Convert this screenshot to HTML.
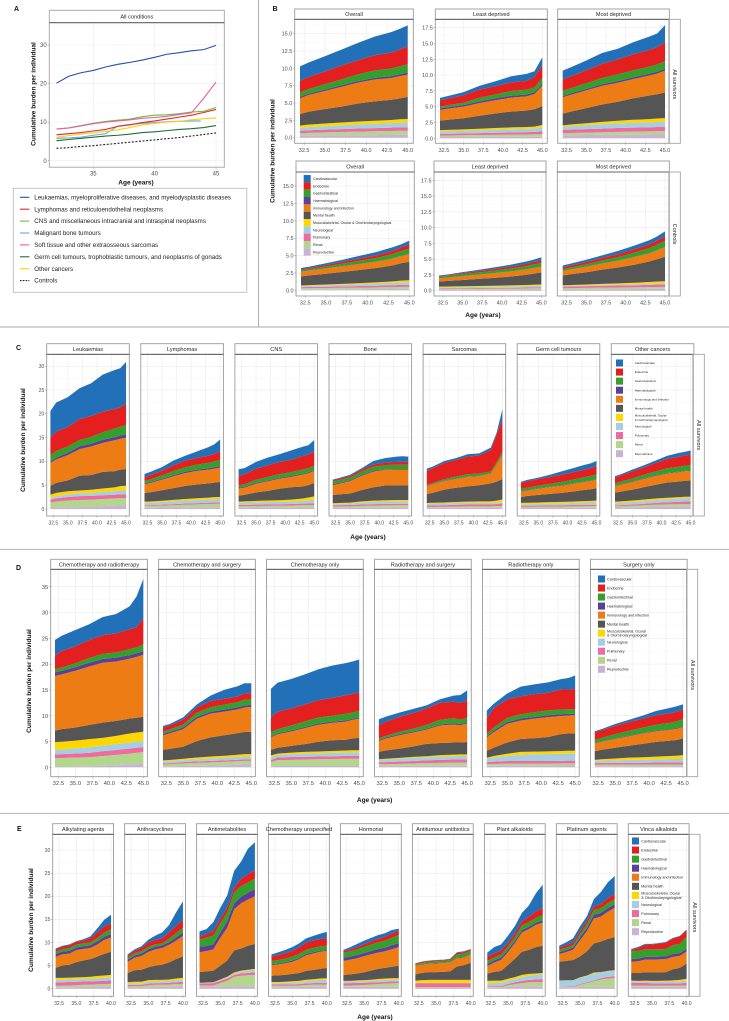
<!DOCTYPE html>
<html lang="en">
<head>
<meta charset="utf-8">
<title>Cumulative burden per individual</title>
<style>
html,body{margin:0;padding:0;background:#fff;width:729px;height:1021px;overflow:hidden}
svg{display:block;font-family:"Liberation Sans",Arial,sans-serif}
</style>
</head>
<body>
<svg id="figure" width="729" height="1021" viewBox="0 0 729 1021" xmlns="http://www.w3.org/2000/svg"></svg>
<script>
/* ---------- shared categories ---------- */
const layerNames = ["Reproductive","Renal","Pulmonary","Neurological","Musculoskeletal, Ocular & Otorhinolaryngological","Mental health","Immunology and infection","Haematological","Gastrointestinal","Endocrine","Cardiovascular"];
const layerColors = ["#cab2d6","#b2d78c","#ef6a9f","#a6cee3","#ffd700","#555555","#ee7c14","#5d3f97","#33a02c","#e31f1f","#2271b8"];
const agesLong = [32,33,35,37,39,41,43,44,45];
const agesShort = [32,33,34,35,36,37,38,39,40];
const xTicksLong = [32.5,35,37.5,40,42.5,45];
const xTicksShort = [32.5,35,37.5,40];
const xTickLabelsLong = ["32.5","35.0","37.5","40.0","42.5","45.0"];
const xTickLabelsShort = ["32.5","35.0","37.5","40.0"];
const yTicksB1 = [0,2.5,5,7.5,10,12.5,15];
const yTickLabelsB1 = ["0.0","2.5","5.0","7.5","10.0","12.5","15.0"];
const yTicksB2 = [0,2.5,5,7.5,10,12.5,15,17.5];
const yTickLabelsB2 = ["0.0","2.5","5.0","7.5","10.0","12.5","15.0","17.5"];
const yTicksC = [0,5,10,15,20,25,30];
const yTickLabelsC = ["0","5","10","15","20","25","30"];
const yTicksD = [0,5,10,15,20,25,30,35];
const yTickLabelsD = ["0","5","10","15","20","25","30","35"];

/* ---------- panel A: line series ---------- */
const lineAges = [32,33,34,35,36,37,38,39,40,41,42,43,44,45];
const boneAges = [32,33,34,35,36,37,38,39,40,41,42,43,43.75];
const leukaemiaLine = [20.1,21.9,22.8,23.4,24.3,25,25.5,26.1,26.8,27.6,28,28.5,28.8,29.9];
const lymphomaLine = [6.7,7,7.3,7.7,8.1,8.9,9.3,9.9,10.3,10.8,11.3,11.8,12.5,13.3];
const cnsLine = [8.2,8.5,9.1,9.7,10.2,10.5,10.8,11.4,11.8,11.9,12.2,12.6,12.8,13.8];
const boneLine = [5.8,5.9,6.1,6.6,7,9,9.4,9.7,9.9,10.1,10.2,10.3,10.3];
const softTissueLine = [8.2,8.5,9,9.6,10,10.3,10.6,11,11.2,11.5,12,12.4,16.2,20.4];
const germCellLine = [5.2,5.5,5.8,6.1,6.4,6.6,6.9,7.3,7.5,7.8,8.1,8.3,8.6,9.1];
const otherCancerLine = [6.1,6.5,6.9,7.2,7.6,8,8.6,9.3,9.7,10,10.2,10.6,10.9,11.1];
const controlsLine = [3.2,3.4,3.7,3.9,4.2,4.5,4.8,5.1,5.4,5.7,6,6.4,6.8,7.2];
const lineLabels = ["Leukaemias, myeloproliferative diseases, and myelodysplastic diseases","Lymphomas and reticuloendothelial neoplasms","CNS and miscellaneous intracranial and intraspinal neoplasms","Malignant bone tumours","Soft tissue and other extraosseous sarcomas","Germ cell tumours, trophoblastic tumours, and neoplasms of gonads","Other cancers","Controls"];
const aXTicks = [35,40,45];
const aYTicks = [0,10,20,30];

/* ---------- stacked panels: rows = layers bottom to top, columns = ages ---------- */
const bOverallAll = [
[.35,.35,.36,.37,.38,.38,.39,.4,.4],[.3,.35,.4,.45,.5,.55,.58,.6,.6],[.35,.38,.4,.42,.44,.45,.48,.5,.5],[.4,.45,.5,.55,.6,.62,.65,.68,.7],[.35,.36,.38,.4,.42,.44,.46,.48,.5],[1.65,1.85,2.1,2.3,2.6,2.8,2.9,3,3.2],[2.3,2.4,2.6,2.85,3,3.15,3.15,3.2,3.2],[.2,.2,.22,.22,.24,.25,.27,.28,.3],[.6,.65,.75,.85,.95,1.05,1.1,1.15,1.2],[1.7,1.75,1.85,2,2.05,2.2,2.3,2.4,2.6],[2.1,2.1,2.2,2.3,2.5,2.7,2.95,3,3]];
const bLeastAll = [
[.2,.2,.2,.22,.23,.24,.25,.25,.25],[.25,.25,.28,.3,.32,.35,.36,.38,.4],[.25,.26,.28,.3,.32,.34,.36,.38,.45],[.4,.4,.42,.44,.48,.5,.52,.54,.65],[.2,.22,.24,.26,.28,.3,.3,.3,.35],[1.5,1.6,1.75,2.05,2.3,2.5,2.6,2.75,3],[1.7,1.75,1.85,2,2.1,2.2,2.25,2.4,3.2],[.25,.25,.25,.28,.3,.3,.3,.3,.3],[.25,.3,.35,.55,.6,.75,.75,.75,.95],[1,1.05,1.2,1.3,1.3,1.35,1.4,1.65,2.05],[.4,.42,.48,.6,.77,.97,1.11,.9,1.2]];
const bMostAll = [
[.5,.5,.52,.54,.56,.57,.58,.6,.6],[.3,.33,.38,.42,.46,.5,.52,.54,.55],[.55,.55,.56,.58,.6,.62,.63,.64,.65],[.5,.55,.62,.7,.74,.76,.78,.8,.8],[.2,.25,.3,.35,.42,.48,.52,.55,.6],[1.85,2.05,2.4,2.75,3,3.4,3.75,3.85,4.05],[2.6,2.65,2.8,2.95,3,3.05,3.15,3.25,3.45],[.2,.22,.24,.26,.28,.28,.3,.3,.3],[.8,.82,.9,1,1.05,1.1,1.1,1.15,1.2],[1.8,1.85,2.05,2.25,2.35,2.55,2.65,2.75,3],[1.4,1.45,1.55,1.7,1.7,1.9,2.1,2.15,2.7]];
const bOverallControls = [
[.15,.15,.16,.16,.17,.18,.19,.2,.2],[.15,.16,.18,.2,.22,.24,.27,.29,.3],[.15,.16,.18,.2,.22,.24,.27,.29,.3],[.15,.17,.2,.23,.26,.3,.35,.38,.4],[.1,.11,.12,.14,.16,.18,.2,.23,.25],[1.3,1.4,1.55,1.72,1.9,2.06,2.3,2.5,2.65],[.65,.68,.74,.8,.84,.9,.98,1.03,1.1],[.03,.03,.03,.04,.04,.04,.05,.05,.05],[.17,.2,.28,.34,.42,.5,.6,.67,.75],[.15,.17,.22,.27,.32,.38,.46,.52,.6],[.2,.17,.24,.3,.4,.48,.53,.44,.55]];
const bLeastControls = [
[.12,.12,.13,.14,.15,.16,.18,.19,.2],[.13,.13,.14,.15,.16,.17,.18,.19,.2],[.12,.12,.12,.13,.13,.14,.14,.15,.15],[.15,.16,.17,.18,.19,.2,.22,.23,.25],[.13,.13,.14,.15,.16,.17,.18,.19,.2],[.8,.87,1,1.12,1.25,1.4,1.6,1.75,1.9],[.5,.53,.6,.65,.72,.78,.85,.87,.9],[.02,.02,.02,.02,.03,.03,.03,.03,.03],[.23,.24,.3,.35,.4,.45,.5,.55,.57],[.1,.12,.17,.21,.26,.3,.35,.38,.4],[.1,.11,.16,.2,.25,.3,.37,.37,.5]];
const bMostControls = [
[.2,.2,.22,.24,.25,.26,.28,.3,.3],[.2,.21,.22,.24,.25,.26,.28,.29,.3],[.25,.26,.28,.3,.32,.34,.37,.39,.4],[.1,.11,.12,.14,.15,.16,.18,.19,.2],[.1,.12,.14,.17,.2,.23,.26,.28,.3],[1.55,1.7,1.95,2.25,2.5,2.85,3.25,3.55,3.9],[.7,.75,.85,.95,1.05,1.2,1.3,1.4,1.5],[.03,.03,.03,.04,.04,.04,.05,.05,.05],[.27,.3,.37,.46,.55,.66,.78,.85,.95],[.3,.32,.35,.41,.47,.53,.6,.65,.7],[.3,.3,.37,.4,.52,.57,.65,.65,.8]];

const cLeukaemias = [
[.3,.35,.38,.4,.45,.6,.7,.75,.75],[1.1,1.2,1.4,1.5,1.5,1.5,1.5,1.55,1.55],[.55,.7,.75,.8,.8,.8,.8,.8,.8],[.35,.45,.55,.6,.6,.7,.75,.8,.8],[.7,.7,.65,.6,.7,.7,.8,.9,1],[1.9,2.1,2.3,3.1,3.1,3.5,3.4,3.45,3.5],[4.8,4.9,5.3,5.6,6,6.1,6.5,6.5,6.6],[.3,.4,.5,.6,.6,.65,.65,.7,.7],[1.3,1.4,1.3,1.3,1.4,1.6,1.8,1.85,1.9],[3.7,4.1,4.1,4.4,4.4,4.3,4.1,4.1,4.5],[5.6,6.1,6.3,6.5,6.9,7.8,8.2,8.2,8.8]];
const cLymphomas = [
[.3,.3,.32,.33,.35,.37,.38,.4,.4],[.3,.32,.38,.45,.55,.6,.65,.68,.7],[.2,.2,.22,.25,.25,.26,.28,.3,.3],[.5,.5,.55,.6,.62,.65,.68,.7,.7],[.25,.25,.27,.3,.33,.38,.4,.42,.45],[1.85,1.95,2.2,2.45,2.75,2.9,3,3.05,3.15],[1.8,1.95,2.2,2.5,2.7,2.85,2.9,2.95,3],[.2,.2,.22,.25,.27,.28,.3,.3,.3],[.5,.55,.7,.85,.95,1.05,1.1,1.2,1.3],[.8,.88,1,1.2,1.4,1.4,1.5,1.6,1.8],[.65,.7,.74,1.02,1.03,1.36,1.81,2,2.5]];
const cCns = [
[.3,.3,.32,.33,.34,.34,.35,.35,.35],[.25,.27,.3,.32,.36,.4,.45,.48,.5],[.3,.3,.3,.3,.3,.3,.32,.33,.35],[.45,.46,.48,.5,.5,.52,.6,.65,.75],[.25,.27,.3,.35,.35,.4,.5,.6,.7],[1.25,1.4,1.8,2,2.4,2.6,2.5,2.6,2.85],[1.5,1.5,1.8,2,2.1,2.2,2.5,2.5,2.5],[.2,.2,.2,.2,.22,.2,.2,.2,.2],[.5,.5,.65,.75,.75,.8,.85,.85,.9],[2,2.1,2.35,2.4,2.55,2.6,2.85,2.9,3],[1.35,1.3,1.4,1.65,1.63,1.94,1.98,1.94,2.4]];
const cBone = [
[.3,.3,.3,.3,.3,.3,.3,.3,.3],[.2,.22,.25,.35,.42,.47,.5,.5,.5],[.3,.3,.3,.3,.3,.3,.3,.3,.3],[.2,.25,.3,.4,.5,.5,.5,.5,.5],[.2,.2,.2,.25,.25,.27,.3,.3,.3],[1.75,1.8,1.9,2.4,2.8,3.1,3.1,3.1,3.1],[2.05,2.2,2.6,3,3.3,3.3,3.3,3.3,3.3],[.2,.2,.2,.2,.2,.15,.1,.1,.1],[.6,.6,.6,.7,.8,.85,.9,.9,.9],[.25,.28,.35,.4,.5,.55,.6,.6,.6],[.15,.15,.2,.3,.73,.91,1.1,1.2,1.1]];
const cSarcomas = [
[.25,.25,.25,.27,.3,.3,.3,.3,.3],[.15,.17,.2,.22,.25,.25,.25,.3,.35],[.3,.32,.35,.4,.4,.4,.4,.45,.55],[.4,.4,.38,.36,.35,.35,.35,.3,.25],[.15,.17,.2,.22,.25,.3,.3,.4,.55],[1.9,2.1,2.7,3,3.2,3.4,3.8,4,4.3],[1.65,1.75,1.8,1.85,2,1.9,2,3.5,5],[.1,.1,.1,.1,.1,.1,.1,.1,.1],[.15,.2,.3,.4,.45,.5,.35,.45,.6],[2.95,3.1,3.4,3.5,3.7,3.75,4.55,5.8,6.9],[.5,.34,.42,.38,.5,.45,.5,.4,2.1]];
const cGermCell = [
[.2,.2,.2,.22,.22,.24,.24,.25,.25],[.25,.25,.27,.28,.3,.32,.34,.35,.35],[.25,.25,.25,.27,.27,.28,.3,.3,.3],[.3,.32,.35,.37,.4,.42,.45,.47,.5],[.3,.3,.3,.3,.31,.32,.33,.34,.35],[1.2,1.4,1.6,1.75,1.9,2.1,2.35,2.45,2.65],[1.1,1.15,1.3,1.4,1.5,1.6,1.7,1.75,1.8],[.1,.1,.1,.1,.1,.1,.1,.1,.1],[.5,.5,.55,.6,.7,.8,.9,.95,1],[1.3,1.33,1.4,1.45,1.5,1.55,1.6,1.65,1.7],[.2,.3,.28,.46,.7,.87,.99,.99,1.1]];
const cOther = [
[.3,.32,.36,.4,.43,.46,.48,.5,.5],[.25,.27,.32,.38,.45,.5,.53,.55,.55],[.2,.22,.27,.33,.4,.45,.5,.53,.55],[.45,.47,.5,.55,.6,.65,.68,.7,.7],[.35,.33,.33,.33,.32,.3,.3,.3,.3],[1.9,2.05,2.3,2.6,2.9,3.2,3.3,3.35,3.4],[1.35,1.45,1.6,1.75,1.85,1.9,1.95,2,2],[.1,.1,.12,.12,.12,.12,.1,.1,.1],[.5,.55,.65,.75,.85,1,1.05,1.1,1.1],[1.2,1.3,1.45,1.55,1.75,1.95,2.1,2.15,2.2],[.3,.24,.4,.44,.53,.67,.81,.72,.9]];

const dChemoRadio = [
[.15,.15,.17,.2,.3,.4,.6,.62,.65],[1.65,1.65,1.7,1.75,1.9,2,2.05,2.2,2.3],[.7,.75,.8,.85,.9,.95,1,.98,.95],[.9,.9,1,1.05,1.1,1.15,1.15,1.2,1.2],[1.5,1.5,1.5,1.6,1.5,1.6,1.75,1.75,1.8],[2.2,2.45,2.55,2.75,2.95,2.9,2.9,2.85,2.9],[10.6,10.6,11,11.3,11.6,11.5,11.6,11.8,12],[.7,.7,.7,.75,.75,.75,.7,.7,.7],[.6,.65,.75,.9,1,1,1.15,1.15,1.3],[2.7,3.2,3.3,3.5,3.6,3.7,3.85,3.9,5.1],[3,2.95,3.13,3.05,3.5,3.75,4.45,5.95,7.6]];
const dChemoSurgery = [
[.2,.2,.25,.3,.35,.4,.5,.55,.55],[.35,.4,.5,.55,.6,.65,.68,.7,.7],[.2,.2,.25,.3,.3,.3,.28,.25,.25],[.4,.4,.4,.4,.45,.5,.55,.6,.6],[.2,.22,.25,.35,.4,.4,.42,.45,.45],[2.05,2.15,2.35,3.2,3.7,3.95,4.2,4.3,4.35],[2.8,3,3.4,4.3,4.6,4.6,4.6,4.75,4.8],[.3,.3,.35,.4,.4,.4,.4,.4,.4],[.4,.45,.55,.8,.85,.95,1,1.1,1.1],[.8,.8,.95,1,1.2,1.1,1.1,1.2,1.2],[.3,.28,.45,.6,1.05,1.75,1.97,2,1.9]];
const dChemoOnly = [
[.2,.25,.25,.25,.25,.25,.25,.25,.25],[.8,1.15,1.2,1.25,1.3,1.35,1.4,1.4,1.4],[.4,.5,.55,.55,.55,.55,.55,.55,.55],[.6,.5,.55,.6,.6,.65,.65,.7,.7],[.3,.25,.3,.35,.35,.35,.4,.4,.4],[1.1,1.15,1.3,1.5,1.9,2.1,2.1,2.3,2.4],[2.4,2.6,2.8,3.1,3.3,3.35,3.5,3.6,3.7],[.2,.2,.2,.2,.25,.25,.25,.2,.2],[.8,.8,.95,1.1,1.15,1.15,1.25,1.25,1.3],[2.9,3.4,3.3,3.3,3.35,3.45,3.6,3.55,3.6],[5.5,5.6,5.7,5.8,6,6.25,6.25,6.3,6.4]];
const dRadioSurgery = [
[.25,.25,.27,.28,.3,.3,.3,.3,.3],[.35,.35,.4,.45,.5,.55,.6,.6,.6],[.4,.4,.45,.5,.55,.6,.6,.65,.65],[.45,.5,.55,.6,.6,.65,.65,.65,.65],[.1,.15,.15,.2,.2,.25,.3,.3,.3],[1.45,1.6,1.8,2,2.4,2.35,2.35,2.3,2.4],[2.1,2.3,2.6,2.7,2.75,3.4,3.5,3.35,3.6],[.2,.2,.2,.2,.2,.2,.25,.25,.2],[.3,.35,.45,.55,.7,.9,.95,.85,.9],[2.6,2.7,2.9,3,3.2,3.3,3.2,3.2,3.4],[1.1,1,.83,.82,.6,.7,1.2,1.55,1.9]];
const dRadioOnly = [
[.3,.3,.32,.33,.33,.33,.35,.35,.35],[.3,.35,.4,.4,.4,.4,.4,.4,.4],[.4,.45,.5,.5,.5,.5,.5,.55,.55],[.65,.8,1,1.2,1.3,1.35,1.35,1.35,1.35],[.2,.3,.4,.55,.5,.5,.55,.55,.55],[1.35,1.6,2.2,2.5,2.6,2.8,3.3,3.35,3.4],[2.6,3,3.6,3.6,3.8,3.85,3.5,3.5,3.5],[.2,.3,.35,.4,.35,.35,.35,.3,.3],[.5,.6,.8,.8,.9,.95,.9,.9,.9],[3,3.7,3.6,3.5,3.5,3.4,3.9,3.8,3.9],[1.5,.9,1.13,1.85,1.9,2.02,2,2.25,2.6]];
const dSurgeryOnly = [
[.2,.2,.2,.22,.22,.22,.22,.22,.22],[.3,.3,.3,.3,.3,.32,.33,.33,.33],[.35,.35,.35,.36,.37,.38,.4,.4,.4],[.4,.45,.5,.55,.55,.6,.65,.65,.65],[.2,.25,.35,.45,.5,.55,.6,.65,.75],[1.65,1.85,2.1,2.3,2.6,2.85,2.95,3.05,3.25],[1.5,1.55,1.7,1.85,2,2.05,2.1,2.15,2.2],[.1,.1,.12,.12,.12,.12,.12,.15,.15],[.6,.65,.8,.9,1,1.15,1.25,1.3,1.35],[1.5,1.5,1.6,1.7,1.75,1.85,1.85,1.85,1.9],[.2,.2,.38,.45,.59,.81,1.03,1.05,1]];

const eAlkylating = [
[.2,.3,.3,.35,.4,.4,.45,.45,.5],[.4,.35,.4,.4,.45,.45,.5,.55,.55],[.75,.75,.75,.75,.7,.7,.7,.7,.75],[.6,.55,.55,.55,.55,.55,.6,.65,.7],[.4,.4,.4,.4,.4,.5,.5,.5,.5],[2.15,2.7,2.8,3.3,3.6,3.8,4.2,4.7,5],[2.4,2.4,2.4,2.6,2.5,2.4,2.6,3,3.1],[.6,.6,.6,.6,.6,.6,.7,.7,.7],[.5,.55,.6,.6,.6,.6,.7,.9,1],[.5,.55,.6,.6,.65,.9,1.2,1.3,1.3],[.2,.15,.2,.15,.25,.4,.85,1.45,1.9]];
const eAnthracyclines = [
[.25,.25,.25,.35,.4,.4,.4,.45,.45],[.25,.3,.3,.4,.45,.45,.5,.55,.6],[.3,.3,.3,.35,.35,.35,.4,.4,.45],[.3,.3,.3,.4,.4,.4,.4,.45,.45],[.3,.35,.35,.35,.3,.3,.3,.35,.4],[2,2.5,2.6,2.8,3.1,3.3,3.7,4.2,4.65],[2.4,2.7,3,3.3,3.5,3.6,3.8,4,4.4],[.5,.5,.5,.6,.6,.6,.6,.7,.8],[.4,.5,.5,.5,.5,.4,.7,.9,1],[.4,.6,.7,1,1,1.1,1.4,1.6,1.7],[.3,.2,.4,.55,.9,1.3,1.6,2.9,4]];
const eAntimetabolites = [
[.5,.5,.5,.5,.5,.5,.5,.5,.5],[.2,.2,.2,.7,1.2,2.1,2.3,2.4,2.5],[.4,.45,.5,.5,.5,.4,.5,.5,.6],[.1,.12,.12,.2,.25,.3,.4,.5,.5],[.05,.08,.08,.1,.15,.2,.2,.2,.2],[2.35,2.4,2.5,3,3.5,4.8,4.8,5.2,5.4],[4.3,4.4,4.6,6,7.1,8.9,9.8,10,10.3],[1.2,1.1,1.1,1.2,1.4,1.3,1.4,1.5,1.6],[1.5,1.8,1.9,1.9,1.9,2.3,2.3,2.2,2.2],[.7,.8,1,1,1.1,1,1.6,1.8,1.8],[1.1,1.05,1.9,2.4,2.6,3.7,3.7,5.5,6.1]];
const eUnspecified = [
[.35,.35,.35,.35,.35,.4,.4,.45,.45],[.3,.3,.3,.3,.35,.4,.45,.45,.45],[.25,.25,.25,.3,.3,.35,.35,.4,.4],[.3,.3,.35,.4,.4,.5,.55,.6,.65],[.25,.25,.25,.25,.3,.3,.3,.3,.3],[1.35,1.45,1.5,1.6,1.7,1.9,2,2.1,2.25],[2.3,2.35,2.5,2.6,3,3.4,3.55,3.7,3.7],[.2,.2,.25,.3,.3,.3,.3,.25,.2],[.7,.75,.75,.85,.85,.85,.9,.9,.9],[1,1.1,1.2,1.25,1.4,1.6,1.6,1.6,1.6],[.4,.6,.7,.8,.85,.9,1,1.15,1.4]];
const eHormonal = [
[.4,.4,.4,.4,.4,.4,.4,.4,.4],[.3,.3,.35,.4,.5,.6,.7,.75,.8],[.5,.5,.5,.5,.45,.4,.4,.4,.4],[.35,.35,.35,.35,.35,.4,.4,.4,.4],[.15,.15,.2,.2,.25,.3,.3,.3,.3],[1.3,1.4,1.5,1.7,2,2.2,2.3,2.5,2.7],[3,3.2,3.3,3.5,3.5,3.5,3.6,3.8,4],[.7,.7,.7,.7,.7,.8,.8,.85,.9],[1.1,1.1,1.2,1.3,1.4,1.4,1.5,1.6,1.7],[.4,.4,.5,.6,.7,.8,.85,.95,1],[.2,.5,.7,.75,.75,.8,.75,.75,.4]];
const eAntitumour = [
[.15,.15,.15,.15,.15,.15,.15,.15,.15],[.2,.2,.2,.2,.2,.2,.2,.2,.2],[.85,.85,.85,.85,.85,.85,.85,.85,.85],[.05,.05,.05,.05,.05,.05,.05,.05,.05],[.5,.6,.65,.65,.65,.65,.65,.65,.65],[1.35,1.6,1.7,1.7,1.75,1.85,2.9,3.2,3.7],[1.8,1.8,1.8,1.85,1.9,1.9,1.8,1.6,1.8],[.1,.1,.1,.1,.1,.1,.1,.1,.1],[.3,.3,.35,.4,.4,.4,.7,.8,.7],[.15,.2,.2,.2,.2,.25,.35,.35,.3],[.05,.05,.05,.05,.05,.05,.15,.15,.1]];
const ePlant = [
[.2,.2,.2,.4,.5,.5,.5,.5,.5],[.15,.15,.15,.35,.5,.7,.9,.9,.9],[.15,.2,.2,.3,.4,.5,.5,.6,.7],[.6,.7,.75,.7,.7,.8,.9,1,1],[.6,.5,.45,.4,.4,.5,.4,.3,.3],[1.6,1.9,2.1,3,4,5,5.2,5.7,5.9],[1.6,2,2.4,2.8,3.4,4.2,4.5,4.8,5],[.5,.5,.5,.5,.5,.5,.5,.5,.5],[.6,.6,.65,.7,.8,1,1,1,1.1],[1,.9,.9,.8,.9,.9,1.2,1.4,1.6],[.8,1.35,1.3,1.55,1.5,1.8,2.4,3.9,5]];
const ePlatinum = [
[.2,.2,.2,.35,.4,.4,.4,.4,.4],[.1,.1,.15,.5,.8,1.2,1.6,1.8,1.9],[.1,.15,.15,.2,.2,.2,.3,.35,.4],[1.35,1.35,1.3,1.3,1.35,1.5,1.2,1.2,1.2],[.02,.02,.02,.1,.1,.2,.1,.1,.1],[4.05,4.2,4.4,4.55,5.25,6.3,6.6,6.9,7.2],[1.7,1.9,2.2,3.5,4.4,5.4,5.4,5.9,6.3],[.4,.45,.5,.6,.7,.8,.8,.8,.8],[.5,.5,.5,.7,.8,1,1,1.05,1.1],[.5,.55,.6,.7,.8,.8,.9,1.05,1.1],[.4,.6,.9,1,.9,1.6,2.6,3.45,3.9]];
const eVinca = [
[.4,.4,.4,.4,.4,.4,.4,.4,.4],[.3,.3,.3,.3,.3,.3,.3,.3,.3],[.6,.55,.55,.45,.45,.45,.45,.45,.6],[.3,.3,.3,.35,.35,.4,.4,.45,.45],[.15,.15,.2,.2,.2,.2,.25,.3,.4],[1.65,1.7,1.8,1.85,1.85,1.85,2.4,2.6,3.3],[2.4,2.55,2.75,2.75,2.8,2.8,2.7,2.6,2.6],[.6,.6,.6,.6,.6,.6,.6,.6,.6],[1.65,1.65,1.6,1.6,1.6,1.6,1.9,2,2.6],[.35,.6,1,1.1,1.2,1.4,1.5,1.6,1.4],[.2,.25,.2,.1,.15,.1,.1,.1,.15]];

/* ---------- drawing helpers ---------- */
const svg = document.getElementById('figure');
const NS = 'http://www.w3.org/2000/svg';
function add(parent, tag, attrs, name, text, interactable) {
  const el = document.createElementNS(NS, tag);
  for (const k in attrs) el.setAttribute(k, attrs[k]);
  
  
  if (text !== undefined) el.textContent = text;
  parent.appendChild(el);
  return el;
}
function linearScale(d0, d1, r0, r1) { return function (v) { return r0 + (v - d0) / (d1 - d0) * (r1 - r0); }; }
function slug(s) { return s.toLowerCase().replace(/[^a-z0-9]+/g, '-').replace(/^-|-$/g, ''); }

function stackPanel(o) {
  const g = add(svg, 'g', {}, 'panel-' + slug(o.id));
  const ages = o.ages;
  const ageMax = ages[ages.length - 1];
  const x = linearScale(32, ageMax, o.areaL, o.areaR);
  const y = function (v) { return o.zeroY - v * o.unit; };
  add(g, 'rect', {x:o.left, y:o.stripB, width:o.right - o.left, height:o.bottom - o.stripB, fill:'#fff'}, 'plot-background');
  const step = o.yTicks[1] - o.yTicks[0];
  o.yTicks.forEach(function (t) {
    add(g, 'line', {x1:o.left, x2:o.right, y1:y(t), y2:y(t), stroke:'#ebebeb', 'stroke-width':.6}, 'y-gridline');
    const m = y(t + step / 2);
    if (m > o.stripB) add(g, 'line', {x1:o.left, x2:o.right, y1:m, y2:m, stroke:'#f4f4f4', 'stroke-width':.4}, 'y-minor-gridline');
  });
  o.xTicks.forEach(function (t) {
    add(g, 'line', {x1:x(t), x2:x(t), y1:o.stripB, y2:o.bottom, stroke:'#ebebeb', 'stroke-width':.6}, 'x-gridline');
  });
  /* stacked layers */
  const base = ages.map(function () { return 0; });
  o.values.forEach(function (row, li) {
    const upper = row.map(function (v, i) { return base[i] + v; });
    const pts = [];
    upper.forEach(function (v, i) { pts.push(x(ages[i]).toFixed(2) + ',' + y(v).toFixed(2)); });
    for (let i = ages.length - 1; i >= 0; i--) pts.push(x(ages[i]).toFixed(2) + ',' + y(base[i]).toFixed(2));
    add(g, 'polygon', {points:pts.join(' '), fill:layerColors[li]}, 'area-' + slug(layerNames[li]));
    upper.forEach(function (v, i) { base[i] = v; });
  });
  /* frame + strip */
  add(g, 'rect', {x:o.left, y:o.stripB, width:o.right - o.left, height:o.bottom - o.stripB, fill:'none', stroke:'#9a9a9a', 'stroke-width':.9}, 'plot-border');
  add(g, 'rect', {x:o.left, y:o.stripT, width:o.right - o.left, height:o.stripB - o.stripT, fill:'#fff', stroke:'#9a9a9a', 'stroke-width':.9}, 'facet-strip');
  add(g, 'line', {x1:o.left, x2:o.right, y1:o.stripB, y2:o.stripB, stroke:'#555', 'stroke-width':.8}, 'facet-strip-rule');
  add(g, 'text', {x:(o.left + o.right) / 2, y:(o.stripT + o.stripB) / 2 + 2, 'font-size':o.stripFont || 5.6, 'text-anchor':'middle', fill:'#262626'}, 'facet-title', o.title);
  /* x axis */
  o.xTicks.forEach(function (t, i) {
    add(g, 'line', {x1:x(t), x2:x(t), y1:o.bottom, y2:o.bottom + 1.5, stroke:'#888', 'stroke-width':.5}, 'x-tick');
    add(g, 'text', {x:x(t), y:o.bottom + 8.5, 'font-size':o.tickFont, 'text-anchor':'middle', fill:'#4d4d4d'}, 'x-tick-label', o.xLabels[i]);
  });
  /* y axis */
  if (o.yLabels) {
    o.yTicks.forEach(function (t, i) {
      add(g, 'line', {x1:o.left - 1.5, x2:o.left, y1:y(t), y2:y(t), stroke:'#888', 'stroke-width':.5}, 'y-tick');
      add(g, 'text', {x:o.left - 2.4, y:y(t) + o.tickFont * .36, 'font-size':o.tickFont, 'text-anchor':'end', fill:'#4d4d4d'}, 'y-tick-label', o.yLabels[i]);
    });
  }
}
function rowStrip(x0, x1, top, bottom, label, name, shiftY) {
  const g = add(svg, 'g', {}, name);
  add(g, 'rect', {x:x0 - 1, y:top, width:2.2, height:bottom - top, fill:'#b4b4b4'}, 'strip-edge');
  add(g, 'rect', {x:x0, y:top, width:x1 - x0, height:bottom - top, fill:'#fff', stroke:'#9a9a9a', 'stroke-width':.8}, 'row-strip');
  const cx = (x0 + x1) / 2 - 1.6, cy = (top + bottom) / 2 + shiftY;
  add(g, 'text', {x:cx, y:cy, transform:'rotate(90 ' + cx + ' ' + cy + ')', 'font-size':5.6, 'text-anchor':'middle', fill:'#262626'}, 'row-strip-label', label);
}
function burdenLegend(sx, firstY, gap, textX, font, swatch, splitLong) {
  const g = add(svg, 'g', {}, 'condition-legend');
  const h = gap >= 8 ? Math.min(swatch, gap) : gap;
  for (let i = layerNames.length - 1; i >= 0; i--) {
    const cy = firstY + (layerNames.length - 1 - i) * gap;
    add(g, 'rect', {x:sx, y:cy - h / 2, width:swatch, height:h, fill:layerColors[i]}, 'legend-swatch');
    if (i === 4 && splitLong) {
      add(g, 'text', {x:textX, y:cy - .9, 'font-size':font, fill:'#262626'}, 'legend-label', 'Musculoskeletal, Ocular');
      add(g, 'text', {x:textX, y:cy + 3.4, 'font-size':font, fill:'#262626'}, 'legend-label', '& Otorhinolaryngological');
    } else {
      add(g, 'text', {x:textX, y:cy + font * .36, 'font-size':font, fill:'#262626'}, 'legend-label', layerNames[i]);
    }
  }
}
function panelLetter(x, y, s) { add(svg, 'text', {x:x, y:y, 'font-size':7, 'font-weight':'bold', fill:'#111'}, 'panel-label-' + s.toLowerCase(), s); }
function yTitle(x, cy) { add(svg, 'text', {x:x, y:cy, transform:'rotate(-90 ' + x + ' ' + cy + ')', 'font-size':6.55, 'font-weight':'bold', 'text-anchor':'middle', fill:'#111'}, 'y-axis-title', 'Cumulative burden per individual'); }
function xTitle(cx, y) { add(svg, 'text', {x:cx, y:y, 'font-size':6.5, 'font-weight':'bold', 'text-anchor':'middle', fill:'#111'}, 'x-axis-title', 'Age (years)'); }

/* ---------- separators ---------- */
add(svg, 'line', {x1:258.5, x2:258.5, y1:0, y2:327, stroke:'#a8a8a8', 'stroke-width':.9}, 'divider-vertical');
add(svg, 'line', {x1:0, x2:729, y1:327, y2:327, stroke:'#a8a8a8', 'stroke-width':.9}, 'divider-ab-c');
add(svg, 'line', {x1:0, x2:729, y1:549.3, y2:549.3, stroke:'#a8a8a8', 'stroke-width':.9}, 'divider-c-d');
add(svg, 'line', {x1:0, x2:729, y1:813.3, y2:813.3, stroke:'#a8a8a8', 'stroke-width':.9}, 'divider-d-e');

/* ---------- panel A ---------- */
(function () {
  const g = add(svg, 'g', {}, 'panel-a');
  const L = 49.3, R = 224.3, T = 10.3, B = 22.7, BOT = 167.2;
  const x = linearScale(35, 45, 93.3, 216);
  const y = linearScale(0, 30, 160.7, 45);
  aYTicks.forEach(function (t) {
    add(g, 'line', {x1:L, x2:R, y1:y(t), y2:y(t), stroke:'#ebebeb', 'stroke-width':.6}, 'y-gridline');
    add(g, 'line', {x1:L, x2:R, y1:y(t + 5), y2:y(t + 5), stroke:'#f4f4f4', 'stroke-width':.4}, 'y-minor-gridline');
    add(g, 'line', {x1:L - 1.5, x2:L, y1:y(t), y2:y(t), stroke:'#888', 'stroke-width':.5}, 'y-tick');
    add(g, 'text', {x:L - 2.6, y:y(t) + 2.1, 'font-size':6, 'text-anchor':'end', fill:'#4d4d4d'}, 'y-tick-label', String(t));
  });
  aXTicks.forEach(function (t) {
    add(g, 'line', {x1:x(t), x2:x(t), y1:B, y2:BOT, stroke:'#ebebeb', 'stroke-width':.6}, 'x-gridline');
    add(g, 'line', {x1:x(t), x2:x(t), y1:BOT, y2:BOT + 1.5, stroke:'#888', 'stroke-width':.5}, 'x-tick');
    add(g, 'text', {x:x(t), y:BOT + 8.2, 'font-size':6, 'text-anchor':'middle', fill:'#4d4d4d'}, 'x-tick-label', String(t));
  });
  const series = [
    {n:'leukaemia-line', a:lineAges, v:leukaemiaLine, c:'#2350ad'},
    {n:'controls-line', a:lineAges, v:controlsLine, c:'#222', d:'2 1.6'},
    {n:'germ-cell-line', a:lineAges, v:germCellLine, c:'#1f6b33'},
    {n:'bone-line', a:boneAges, v:boneLine, c:'#63aee0'},
    {n:'other-cancers-line', a:lineAges, v:otherCancerLine, c:'#ffd000'},
    {n:'lymphoma-line', a:lineAges, v:lymphomaLine, c:'#e8262a'},
    {n:'cns-line', a:lineAges, v:cnsLine, c:'#6cbf3a'},
    {n:'soft-tissue-line', a:lineAges, v:softTissueLine, c:'#e660a5'}
  ];
  series.forEach(function (s) {
    const pts = s.v.map(function (v, i) { return x(s.a[i]).toFixed(2) + ',' + y(v).toFixed(2); }).join(' ');
    const at = {points:pts, fill:'none', stroke:s.c, 'stroke-width':1.1};
    if (s.d) at['stroke-dasharray'] = s.d;
    add(g, 'polyline', at, s.n);
  });
  add(g, 'rect', {x:L, y:B, width:R - L, height:BOT - B, fill:'none', stroke:'#a3a3a3', 'stroke-width':.9}, 'plot-border');
  add(g, 'rect', {x:L, y:T, width:R - L, height:B - T, fill:'#fff', stroke:'#a3a3a3', 'stroke-width':.9}, 'facet-strip');
  add(g, 'line', {x1:L, x2:R, y1:B, y2:B, stroke:'#555', 'stroke-width':.8}, 'facet-strip-rule');
  add(g, 'text', {x:(L + R) / 2, y:18.7, 'font-size':5.6, 'text-anchor':'middle', fill:'#262626'}, 'facet-title', 'All conditions');
  /* legend */
  add(g, 'rect', {x:13.3, y:188.3, width:233.5, height:104, fill:'#fff', stroke:'#bdbdbd', 'stroke-width':.9}, 'legend-box');
  const lg = ['#2350ad','#e8262a','#6cbf3a','#63aee0','#e660a5','#1f6b33','#ffd000','#222'];
  lineLabels.forEach(function (t, i) {
    const cy = 197.3 + i * 11.9;
    const at = {x1:20, x2:29.3, y1:cy, y2:cy, stroke:lg[i], 'stroke-width':1.1};
    if (i === 7) at['stroke-dasharray'] = '1.6 1.2';
    add(g, 'line', at, 'legend-line');
    add(g, 'text', {x:34.3, y:cy + 2.1, 'font-size':6.2, fill:'#222'}, 'legend-label', t);
  });
})();
panelLetter(14, 11, 'A');
yTitle(35.5, 94);
xTitle(136, 184.5);

/* ---------- panel B ---------- */
panelLetter(272.5, 11, 'B');
yTitle(274.5, 151);
xTitle(483, 317);
const bTop = {stripT:9, stripB:19.3, bottom:143.3, tickFont:5.5, ages:agesLong, xTicks:xTicksLong, xLabels:xTickLabelsLong};
const bBot = {stripT:161, stripB:172, bottom:296, tickFont:5.5, ages:agesLong, xTicks:xTicksLong, xLabels:xTickLabelsLong};
stackPanel(Object.assign({}, bTop, {id:'b-overall-survivors', title:'Overall', values:bOverallAll, left:294.7, right:413.3, areaL:300, areaR:407.7, zeroY:137.7, unit:6.93, yTicks:yTicksB1, yLabels:yTickLabelsB1}));
stackPanel(Object.assign({}, bTop, {id:'b-least-survivors', title:'Least deprived', values:bLeastAll, left:435.3, right:547.3, areaL:440, areaR:542.3, zeroY:138.3, unit:6.32, yTicks:yTicksB2, yLabels:yTickLabelsB2}));
stackPanel(Object.assign({}, bTop, {id:'b-most-survivors', title:'Most deprived', values:bMostAll, left:557.7, right:669.3, areaL:562.7, areaR:665, zeroY:138.3, unit:6.32, yTicks:yTicksB2}));
rowStrip(669.3, 680.3, 19.3, 143.3, 'All survivors', 'row-strip-all-survivors-b', 3);
stackPanel(Object.assign({}, bBot, {id:'b-overall-controls', title:'Overall', values:bOverallControls, left:296, right:414.3, areaL:301, areaR:409.3, zeroY:290.3, unit:6.95, yTicks:yTicksB1, yLabels:yTickLabelsB1}));
stackPanel(Object.assign({}, bBot, {id:'b-least-controls', title:'Least deprived', values:bLeastControls, left:434, right:546, areaL:439, areaR:541.3, zeroY:290.7, unit:6.31, yTicks:yTicksB2, yLabels:yTickLabelsB2}));
stackPanel(Object.assign({}, bBot, {id:'b-most-controls', title:'Most deprived', values:bMostControls, left:557.3, right:669.3, areaL:562.7, areaR:665, zeroY:290.7, unit:6.31, yTicks:yTicksB2}));
rowStrip(669.3, 680.3, 172, 296, 'Controls', 'row-strip-controls', 0);
burdenLegend(303.7, 178.7, 7.33, 313, 3.6, 7, false);

/* ---------- panel C ---------- */
panelLetter(16, 350, 'C');
yTitle(25, 440);
xTitle(368, 538.8);
const cPanels = [['Leukaemias',cLeukaemias],['Lymphomas',cLymphomas],['CNS',cCns],['Bone',cBone],['Sarcomas',cSarcomas],['Germ cell tumours',cGermCell],['Other cancers',cOther]];
cPanels.forEach(function (p, i) {
  const left = 46.7 + i * 94.1;
  stackPanel({id:'c-' + p[0], title:p[0], values:p[1], left:left, right:left + 82.6, stripT:343.7, stripB:354.3, bottom:516, areaL:left + 3.7, areaR:left + 79.3, zeroY:509, unit:4.756, tickFont:5, ages:agesLong, xTicks:xTicksLong, xLabels:xTickLabelsLong, yTicks:yTicksC, yLabels:i === 0 ? yTickLabelsC : null});
});
rowStrip(693.3, 704.3, 354.3, 516, 'All survivors', 'row-strip-all-survivors-c', 0);
burdenLegend(616, 363, 9.07, 634.7, 3, 7, true);

/* ---------- panel D ---------- */
panelLetter(16, 570, 'D');
yTitle(31, 681);
xTitle(374.6, 802);
const dPanels = [['Chemotherapy and radiotherapy',dChemoRadio],['Chemotherapy and surgery',dChemoSurgery],['Chemotherapy only',dChemoOnly],['Radiotherapy and surgery',dRadioSurgery],['Radiotherapy only',dRadioOnly],['Surgery only',dSurgeryOnly]];
dPanels.forEach(function (p, i) {
  const left = 50.7 + i * 107.95;
  stackPanel({id:'d-' + p[0], title:p[0], values:p[1], left:left, right:left + 96.7, stripT:559.3, stripB:569.3, bottom:776.7, areaL:left + 4.3, areaR:left + 92.6, zeroY:767.3, unit:5.16, tickFont:5.9, ages:agesLong, xTicks:xTicksLong, xLabels:xTickLabelsLong, yTicks:yTicksD, yLabels:i === 0 ? yTickLabelsD : null});
});
rowStrip(687, 697.7, 569.3, 776.7, 'All survivors', 'row-strip-all-survivors-d', 2);
burdenLegend(598, 579, 9.03, 607, 3.7, 7, true);

/* ---------- panel E ---------- */
panelLetter(17, 831, 'E');
yTitle(33, 920);
xTitle(375, 1019);
const ePanels = [['Alkylating agents',eAlkylating],['Anthracyclines',eAnthracyclines],['Antimetabolites',eAntimetabolites],['Chemotherapy unspecified',eUnspecified],['Hormonal',eHormonal],['Antitumour antibiotics',eAntitumour],['Plant alkaloids',ePlant],['Platinum agents',ePlatinum],['Vinca alkaloids',eVinca]];
ePanels.forEach(function (p, i) {
  const left = 52.7 + i * 71.95;
  stackPanel({id:'e-' + p[0], title:p[0], values:p[1], left:left, right:left + 60.8, stripT:823.7, stripB:834.3, bottom:996.3, areaL:left + 2.9, areaR:left + 58.3, zeroY:988.7, unit:4.62, tickFont:5.1, ages:agesShort, xTicks:xTicksShort, xLabels:xTickLabelsShort, yTicks:yTicksC, yLabels:i === 0 ? yTickLabelsC : null});
});
rowStrip(689.3, 700, 834.3, 996.3, 'All survivors', 'row-strip-all-survivors-e', 2);
burdenLegend(632, 841, 9.07, 641.3, 3.7, 7, true);
</script>
</body>
</html>
